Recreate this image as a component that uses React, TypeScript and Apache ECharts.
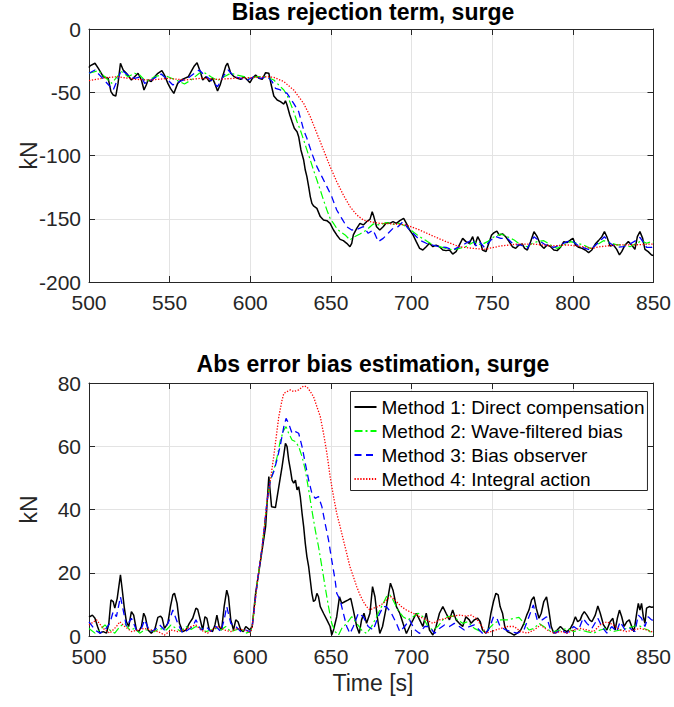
import React, { useEffect, useRef } from "react";
import * as echarts from "echarts";

// ---- Data ----
const xTicks = [500, 550, 600, 650, 700, 750, 800, 850];
const topYTicks = [-200, -150, -100, -50, 0];
const botYTicks = [0, 20, 40, 60, 80];
const seriesNames = [
  "Method 1: Direct compensation",
  "Method 2: Wave-filtered bias",
  "Method 3: Bias observer",
  "Method 4: Integral action",
];
const topTitle = "Bias rejection term, surge";
const botTitle = "Abs error bias estimation, surge";
const yLabel = "kN";
const xLabel = "Time [s]";

// Top panel: bias rejection term [t, kN]
const topM1: number[][] = [[500,-30.5],[500.6,-29.2],[503.7,-27.1],[505.8,-31.1],[508.8,-37.7],[511.9,-39.0],[513.6,-49.5],[515.0,-52.2],[516.6,-53.0],[518.0,-43.0],[519.5,-27.1],[521.2,-32.4],[523.2,-35.0],[526.3,-40.3],[528.3,-37.7],[530.4,-35.0],[532.5,-40.3],[534.1,-48.2],[535.5,-44.3],[536.6,-40.3],[538.6,-41.6],[540.7,-37.7],[542.7,-35.0],[545.2,-32.9],[546.8,-36.4],[548.9,-43.0],[550.5,-46.9],[552.6,-50.9],[555.0,-43.0],[557.1,-40.3],[559.2,-39.0],[561.6,-37.7],[563.3,-33.7],[565.3,-29.2],[567.0,-26.6],[569.0,-33.7],[570.5,-40.3],[572.5,-37.7],[574.6,-41.6],[576.6,-39.0],[578.0,-43.0],[579.7,-49.0],[581.3,-44.3],[582.8,-37.7],[584.8,-29.2],[585.9,-27.1],[587.9,-35.0],[590.0,-37.7],[592.0,-39.0],[594.1,-39.8],[596.1,-37.7],[598.2,-40.3],[599.8,-42.4],[601.3,-39.0],[603.3,-36.4],[605.4,-39.0],[607.4,-39.8],[609.5,-34.5],[611.5,-35.0],[613.0,-44.3],[614.6,-53.0],[616.7,-56.1],[618.7,-57.4],[620.8,-59.3],[621.8,-56.7],[622.8,-60.1],[624.5,-68.0],[625.9,-73.3],[627.3,-78.5],[629.0,-81.2],[630.0,-85.1],[631.4,-95.6],[633.1,-103.6],[634.1,-111.5],[635.1,-116.7],[636.2,-124.6],[637.2,-132.5],[638.2,-137.8],[639.2,-139.9],[641.3,-141.8],[643.4,-148.3],[645.4,-151.0],[647.5,-151.5],[649.5,-153.6],[651.6,-158.9],[653.6,-162.8],[655.7,-166.3],[657.7,-167.3],[659.8,-169.4],[661.8,-172.1],[662.9,-169.4],[663.9,-162.8],[666.0,-157.6],[668.0,-153.6],[670.1,-154.9],[672.1,-152.3],[674.2,-150.5],[675.6,-144.4],[676.6,-148.3],[678.3,-156.3],[680.3,-158.9],[682.4,-156.3],[684.4,-153.1],[686.5,-153.6],[688.5,-152.3],[690.6,-153.6],[692.7,-151.5],[695.1,-149.7],[696.8,-153.6],[698.8,-158.9],[700.9,-162.8],[702.9,-168.1],[705.0,-173.4],[707.0,-174.7],[709.1,-172.1],[711.1,-169.4],[713.2,-172.1],[715.2,-170.8],[717.3,-172.1],[719.4,-174.7],[721.4,-175.2],[723.5,-174.7],[725.5,-177.9],[727.6,-176.0],[729.6,-170.8],[731.7,-165.5],[733.7,-168.1],[735.8,-169.4],[737.9,-164.2],[739.3,-170.7],[741.0,-164.2],[742.6,-168.1],[744.0,-174.7],[746.1,-176.0],[748.2,-168.1],[749.6,-162.8],[751.2,-161.0],[752.9,-159.7],[754.3,-162.8],[756.4,-162.0],[758.4,-164.2],[760.5,-168.1],[762.5,-172.1],[764.6,-173.4],[766.6,-170.7],[768.7,-170.0],[770.1,-173.4],[771.8,-174.7],[773.8,-168.1],[775.9,-160.2],[777.9,-164.2],[780.0,-170.7],[782.0,-173.4],[784.1,-170.7],[786.2,-172.1],[788.2,-174.7],[790.3,-175.2],[792.3,-172.6],[794.4,-168.1],[796.4,-168.9],[798.5,-166.8],[800.1,-165.5],[801.6,-170.7],[803.6,-172.6],[805.7,-173.4],[807.7,-174.7],[809.8,-176.8],[811.8,-174.7],[813.9,-170.0],[815.9,-167.3],[818.0,-164.2],[819.6,-160.2],[821.1,-164.2],[823.1,-171.5],[825.2,-170.7],[827.2,-174.2],[828.9,-178.6],[830.3,-176.0],[832.4,-170.7],[834.4,-168.1],[836.5,-170.7],[838.5,-174.2],[840.0,-164.2],[841.6,-160.2],[843.3,-165.5],[844.7,-174.2],[846.7,-176.0],[848.8,-178.6],[850.0,-179.0]];
const topM2: number[][] = [[500,-35.0],[505.8,-32.9],[514.0,-43.0],[520.1,-33.7],[524.2,-37.7],[528.3,-35.0],[531.4,-36.4],[535.5,-41.6],[540.7,-37.7],[544.8,-36.4],[548.9,-37.7],[554.0,-40.3],[559.2,-43.5],[563.3,-40.3],[568.4,-35.0],[571.5,-34.5],[575.6,-37.7],[579.7,-40.8],[583.8,-37.7],[587.9,-35.0],[592.0,-36.4],[596.1,-37.7],[600.2,-39.0],[604.3,-37.7],[609.5,-37.7],[614.6,-40.3],[616.7,-43.0],[618.7,-45.6],[620.8,-48.2],[622.8,-52.2],[624.9,-58.8],[626.9,-65.3],[629.0,-73.3],[631.0,-79.8],[633.1,-87.7],[635.1,-95.6],[637.2,-103.6],[639.2,-111.5],[641.3,-119.4],[643.4,-127.3],[645.4,-135.2],[647.5,-143.1],[649.5,-149.7],[651.6,-153.6],[653.6,-157.6],[655.7,-160.2],[658.8,-162.8],[661.8,-166.8],[663.9,-164.7],[668.0,-162.1],[672.1,-158.9],[676.2,-154.1],[680.3,-154.9],[684.4,-153.1],[688.5,-154.4],[692.7,-153.6],[696.8,-156.3],[700.9,-160.2],[705.0,-164.2],[709.1,-167.3],[713.2,-170.8],[717.3,-172.1],[721.4,-173.4],[725.5,-174.7],[729.6,-173.4],[733.7,-172.1],[738.9,-168.1],[743.0,-170.7],[747.1,-168.1],[751.2,-164.2],[755.3,-162.0],[759.4,-164.2],[763.6,-166.8],[767.7,-170.7],[771.8,-172.1],[774.9,-169.4],[777.9,-168.1],[782.0,-167.3],[786.2,-170.7],[790.3,-173.4],[794.4,-170.7],[798.5,-168.1],[802.6,-169.4],[806.7,-170.7],[810.8,-173.4],[814.9,-170.7],[819.0,-167.3],[823.1,-168.9],[827.2,-170.7],[831.3,-170.7],[835.4,-172.1],[839.6,-169.4],[842.6,-167.3],[845.7,-169.4],[848.8,-168.1],[850,-168.5]];
const topM3: number[][] = [[500,-35.0],[503.7,-32.4],[515.0,-48.2],[520.1,-32.4],[524.2,-36.4],[528.3,-39.0],[532.5,-37.7],[534.5,-43.0],[538.6,-40.3],[544.8,-35.6],[548.9,-40.3],[552.0,-44.3],[556.1,-41.6],[561.2,-39.0],[565.3,-35.0],[568.4,-32.4],[571.5,-36.4],[575.6,-40.3],[579.7,-45.6],[583.8,-36.4],[586.3,-32.4],[590.0,-37.7],[594.1,-39.0],[598.2,-40.3],[602.3,-37.7],[606.4,-39.0],[610.5,-37.7],[613.6,-41.6],[615.6,-46.9],[618.7,-48.2],[622.8,-50.9],[626.9,-58.8],[630.0,-65.3],[633.1,-79.8],[635.1,-86.4],[638.2,-98.3],[641.3,-108.8],[644.4,-116.7],[647.5,-124.6],[650.5,-132.5],[653.6,-143.1],[656.7,-149.7],[659.8,-156.3],[662.9,-158.9],[666.0,-158.4],[670.1,-156.3],[673.1,-161.5],[676.2,-158.9],[679.3,-168.1],[682.4,-165.5],[685.5,-161.5],[688.5,-157.6],[691.6,-156.3],[694.7,-152.3],[697.8,-157.6],[700.9,-161.5],[705.0,-166.8],[709.1,-169.4],[713.2,-170.8],[717.3,-172.1],[721.4,-172.6],[725.5,-174.7],[729.6,-172.1],[733.7,-169.4],[737.9,-166.3],[739.9,-171.5],[742.0,-168.1],[745.1,-172.6],[749.2,-166.8],[752.3,-164.2],[755.3,-165.5],[759.4,-165.5],[763.6,-170.7],[767.7,-170.7],[771.8,-173.4],[775.9,-164.2],[779.0,-167.3],[783.1,-170.7],[788.2,-172.6],[792.3,-170.7],[796.4,-168.1],[799.5,-167.3],[803.6,-171.5],[807.7,-173.4],[810.8,-174.7],[814.9,-170.0],[819.6,-164.2],[823.1,-169.4],[827.2,-172.6],[831.3,-172.1],[835.4,-170.0],[839.6,-166.8],[841.6,-164.7],[845.7,-172.6],[848.8,-172.6],[850,-172.0]];
const topM4: number[][] = [[500,-40.8],[509.9,-38.5],[518.1,-37.7],[528.3,-39.8],[538.6,-40.3],[548.9,-39.0],[559.2,-40.3],[569.4,-39.0],[579.7,-39.8],[590.0,-39.0],[600.2,-38.5],[610.5,-37.7],[614.6,-38.2],[620.8,-41.6],[626.9,-48.2],[633.1,-58.8],[637.2,-69.3],[641.3,-82.5],[645.4,-95.6],[649.5,-108.8],[653.6,-120.7],[657.7,-131.2],[661.8,-140.4],[666.0,-147.0],[670.1,-151.0],[674.2,-152.3],[680.3,-153.6],[688.5,-154.1],[696.8,-154.9],[705.0,-158.9],[713.2,-163.6],[721.4,-168.1],[729.6,-172.1],[737.8,-173.4],[745.1,-174.2],[755.3,-171.5],[765.6,-170.0],[775.9,-170.0],[786.2,-171.5],[796.4,-170.7],[806.7,-172.1],[811.8,-173.4],[817.0,-172.1],[827.2,-170.7],[837.5,-170.7],[848.8,-170.0],[850,-170.0]];

// Bottom panel: absolute error of bias estimate [t, kN]
const absM1: number[][] = [[500,6.3],[500.6,6.1],[502.1,6.6],[503.7,5.6],[505.3,3.0],[506.8,0.9],[508.8,1.4],[510.9,0.9],[512.3,4.0],[513.6,11.4],[515.0,10.9],[516.0,8.8],[517.5,11.9],[518.5,15.6],[519.5,19.3],[520.5,15.1],[521.8,9.3],[523.2,4.5],[524.6,3.0],[526.3,7.7],[527.7,6.6],[529.4,1.9],[530.8,1.4],[532.5,3.0],[533.9,7.2],[534.9,6.1],[536.6,1.9],[538.6,0.9],[540.7,1.9],[542.7,5.9],[544.4,6.3],[545.4,5.6],[546.8,2.4],[548.9,4.0],[550.5,9.3],[552.0,13.0],[553.0,13.5],[554.6,10.3],[556.1,4.0],[558.1,1.4],[560.2,1.9],[562.2,4.0],[564.3,5.6],[566.3,8.8],[567.4,8.4],[569.0,5.1],[570.5,1.9],[571.9,6.1],[573.1,5.6],[574.6,1.9],[576.6,1.4],[578.1,3.5],[579.3,6.6],[580.7,3.0],[582.2,1.9],[583.8,9.3],[585.4,14.5],[586.5,12.4],[587.9,5.1],[589.6,1.9],[591.0,5.1],[592.4,4.5],[594.1,1.9],[595.7,1.4],[597.2,3.0],[598.6,2.4],[599.8,1.9],[601.2,3.0],[603.3,13.5],[606.4,24.0],[609.5,34.6],[611.5,50.4],[613.2,40.9],[615.6,40.6],[617.7,47.2],[619.7,53.5],[621.8,60.9],[622.8,59.9],[623.8,55.7],[624.9,52.5],[625.9,49.3],[626.9,48.3],[628.0,49.3],[629.0,46.2],[630.0,47.2],[631.0,44.1],[632.1,38.8],[633.1,34.6],[634.1,29.3],[635.1,25.1],[636.2,21.9],[637.2,17.7],[638.2,13.5],[639.2,10.9],[640.3,11.4],[641.3,13.5],[642.3,12.4],[643.4,9.3],[645.4,7.2],[647.5,5.1],[649.5,3.0],[650.5,0.3],[651.6,1.9],[653.6,6.1],[655.3,12.4],[656.7,10.3],[658.8,10.9],[660.8,11.4],[662.3,11.9],[663.9,8.2],[666.0,3.0],[667.6,0.8],[669.0,5.1],[670.5,7.2],[672.1,4.0],[674.2,7.2],[675.8,15.6],[677.3,12.4],[678.7,6.1],[680.3,0.8],[682.0,3.0],[684.4,9.3],[686.9,16.7],[688.5,14.5],[690.6,9.3],[692.7,7.2],[694.7,4.0],[696.8,0.8],[698.8,3.0],[700.9,5.1],[702.9,7.2],[705.0,5.1],[707.0,3.0],[709.1,7.2],[711.1,1.9],[713.2,0.3],[715.2,3.0],[717.3,7.2],[719.4,9.3],[721.4,7.2],[723.5,5.1],[725.5,8.2],[727.6,5.1],[729.6,4.0],[731.7,3.0],[733.7,6.1],[735.8,5.1],[736.9,4.0],[738.9,5.1],[741.0,5.6],[742.6,4.5],[744.0,1.9],[746.1,0.9],[747.5,1.9],[749.2,7.2],[750.8,10.9],[752.3,13.5],[753.7,13.0],[754.9,9.3],[756.4,7.2],[757.8,3.0],[759.4,1.4],[761.5,0.9],[763.6,0.3],[765.6,0.9],[767.7,1.9],[769.7,4.0],[771.4,6.6],[772.8,8.2],[774.4,11.4],[775.9,12.4],[777.3,8.8],[779.0,5.6],[780.4,7.2],[782.0,10.9],[783.7,12.4],[785.1,8.2],[786.6,3.0],[788.2,0.9],[790.3,1.9],[792.3,3.0],[794.4,1.9],[796.4,1.4],[798.5,2.4],[800.1,4.0],[801.6,6.1],[803.0,4.5],[804.6,5.1],[805.7,6.6],[807.1,7.7],[808.7,6.6],[810.4,5.1],[811.8,4.5],[813.9,6.6],[815.5,9.5],[817.0,7.2],[819.0,3.5],[821.1,1.9],[823.1,4.5],[824.8,5.6],[826.2,1.9],[827.6,5.6],[828.9,8.2],[830.3,6.1],[831.8,3.0],[833.4,4.5],[835.0,5.1],[836.5,3.0],[837.9,1.4],[839.6,7.2],[840.6,10.3],[841.6,8.2],[842.6,10.3],[843.7,6.1],[844.7,4.0],[845.7,8.8],[847.4,9.3],[848.8,9.1],[850,9.2]];
const absM2: number[][] = [[500,2.4],[503.7,0.9],[506.8,1.9],[509.9,3.5],[512.9,1.9],[516.0,0.9],[519.1,3.0],[522.2,4.0],[525.3,1.9],[528.3,2.4],[531.4,0.9],[534.5,1.9],[537.6,1.9],[540.7,1.4],[543.8,2.4],[547.9,1.9],[550.9,3.5],[554.0,2.4],[557.1,1.4],[560.2,3.0],[563.3,2.1],[566.3,3.0],[569.4,2.4],[572.5,1.4],[575.6,1.9],[578.7,2.4],[581.8,1.9],[584.8,3.0],[587.9,1.4],[591.0,1.9],[594.1,2.4],[597.2,0.9],[600.2,1.4],[601.2,3.0],[604.3,16.7],[607.4,28.3],[610.5,43.0],[612.5,49.3],[614.6,52.5],[616.7,56.7],[618.7,62.0],[620.8,65.1],[622.2,66.2],[623.8,64.1],[625.9,62.0],[628.0,61.5],[630.0,59.9],[632.1,56.7],[634.1,52.5],[636.2,46.2],[638.2,39.8],[640.3,33.5],[642.3,28.3],[644.4,21.9],[646.4,15.6],[648.5,9.3],[650.5,4.0],[652.6,1.4],[654.7,0.3],[656.7,2.4],[659.8,4.0],[662.9,6.1],[666.0,4.0],[669.0,1.9],[672.1,0.8],[675.2,3.0],[678.3,6.1],[681.4,9.3],[684.4,12.4],[686.5,13.0],[688.5,11.4],[691.6,8.2],[694.7,6.1],[697.8,5.1],[700.9,6.1],[704.0,7.2],[707.0,6.1],[710.1,3.0],[713.2,1.9],[716.3,3.0],[719.4,5.1],[722.4,6.1],[725.5,6.3],[728.6,5.1],[731.7,4.0],[734.8,4.5],[738.9,2.4],[743.0,1.4],[747.1,1.9],[751.2,4.0],[755.3,5.1],[759.4,5.1],[763.6,5.6],[766.6,5.9],[769.7,4.0],[772.8,1.9],[775.9,2.4],[779.0,4.0],[782.0,3.0],[785.1,1.9],[788.2,1.4],[792.3,1.9],[796.4,2.4],[800.5,1.4],[804.6,1.9],[808.7,1.4],[812.9,0.9],[817.0,1.9],[821.1,2.4],[825.2,1.4],[829.3,1.9],[833.4,2.4],[837.5,3.0],[840.6,3.5],[843.7,2.4],[846.7,1.9],[848.8,0.9],[850,0.8]];
const absM3: number[][] = [[500,4.5],[503.7,1.9],[506.8,0.9],[509.9,1.9],[512.9,4.0],[515.0,7.7],[517.0,6.1],[519.5,12.4],[521.2,8.2],[523.2,3.0],[526.3,5.6],[529.4,1.9],[532.5,2.4],[534.5,5.1],[537.6,1.4],[540.7,1.9],[543.8,3.5],[546.8,1.9],[549.9,5.1],[552.0,8.2],[555.0,4.0],[558.1,0.9],[561.2,1.9],[564.3,3.0],[566.3,5.1],[569.4,1.9],[572.5,3.0],[575.6,1.4],[578.7,3.0],[581.8,1.4],[583.8,5.1],[585.4,9.3],[587.9,4.0],[591.0,3.0],[594.1,1.4],[597.2,1.9],[599.8,1.4],[601.2,3.0],[604.3,16.7],[607.4,28.3],[610.5,43.0],[612.5,49.3],[614.6,52.0],[616.7,56.0],[618.7,60.5],[620.8,66.2],[622.2,68.8],[623.8,67.2],[625.9,64.1],[628.0,64.6],[630.0,64.1],[632.1,59.9],[634.1,54.6],[636.2,49.3],[638.2,45.1],[640.3,43.5],[642.3,44.1],[644.4,40.9],[646.4,35.6],[648.5,30.4],[650.5,24.0],[652.6,17.7],[653.6,13.5],[655.7,11.4],[657.7,7.2],[659.8,3.0],[661.8,0.8],[663.9,3.0],[667.0,7.2],[670.1,6.1],[673.1,3.0],[676.2,1.9],[679.3,6.1],[682.4,9.3],[684.4,9.3],[687.5,7.2],[690.6,4.0],[692.7,1.4],[695.7,3.0],[698.8,5.1],[701.9,2.0],[705.0,0.8],[708.1,3.0],[711.1,3.0],[714.2,0.8],[717.3,2.4],[720.4,3.5],[723.5,3.0],[726.5,4.0],[729.6,3.0],[732.7,1.9],[735.8,3.0],[738.9,3.5],[742.0,1.9],[745.1,0.3],[748.2,2.4],[750.8,6.1],[752.9,5.6],[754.9,3.0],[758.4,1.9],[761.5,1.4],[765.6,0.9],[769.7,1.9],[772.8,6.1],[775.5,9.8],[777.9,5.1],[781.0,5.1],[783.7,6.1],[786.2,1.9],[789.2,0.9],[792.3,1.9],[796.4,0.9],[800.5,3.0],[803.6,1.9],[806.3,5.6],[808.7,4.0],[811.8,2.4],[815.5,5.6],[818.0,3.0],[821.1,0.9],[824.1,3.0],[827.2,1.4],[829.3,4.5],[832.4,1.9],[835.4,2.4],[838.5,1.4],[840.6,6.6],[842.6,5.6],[844.7,3.0],[846.7,6.1],[848.8,5.1],[850,5.0]];
const absM4: number[][] = [[500,3.5],[504.7,5.1],[508.8,2.4],[512.9,0.9],[517.0,3.0],[519.1,4.5],[522.2,3.0],[526.3,1.4],[530.4,1.9],[534.5,2.4],[538.6,1.9],[542.7,1.4],[546.8,0.3],[550.9,1.9],[555.0,1.4],[559.2,1.9],[563.3,3.0],[566.3,3.5],[569.4,1.9],[573.5,0.9],[577.6,2.4],[580.7,3.0],[583.8,1.9],[587.9,1.4],[592.0,2.4],[596.1,1.9],[600.2,1.1],[601.2,3.0],[604.3,16.7],[607.4,28.3],[610.5,43.0],[612.5,49.3],[614.6,57.0],[617.7,69.4],[619.7,74.6],[620.8,76.7],[622.8,77.3],[624.9,77.8],[626.9,77.3],[630.0,77.8],[633.1,79.1],[635.1,78.8],[637.2,77.3],[639.2,75.7],[641.3,72.5],[643.4,69.4],[645.4,64.1],[647.5,57.8],[649.5,50.4],[651.6,44.1],[653.6,38.8],[655.7,34.6],[657.7,30.4],[659.8,26.1],[661.8,21.9],[663.9,18.8],[666.0,15.6],[668.0,13.0],[670.1,10.9],[672.1,9.3],[674.2,8.2],[676.2,8.8],[679.3,9.3],[682.4,10.3],[685.5,11.9],[687.5,12.4],[690.6,10.9],[693.7,9.3],[696.8,8.2],[700.9,7.2],[705.0,6.1],[709.1,5.1],[713.2,4.0],[717.3,5.1],[721.4,5.6],[725.5,6.3],[729.6,6.6],[733.7,6.3],[736.9,6.6],[740.0,5.6],[743.0,3.5],[746.1,0.9],[749.2,1.4],[752.3,1.9],[755.3,2.4],[759.4,3.0],[763.6,3.0],[767.7,1.4],[771.8,0.9],[775.9,1.9],[780.0,3.5],[784.1,1.9],[788.2,0.9],[792.3,1.4],[796.4,0.9],[800.5,1.9],[804.6,2.4],[808.7,1.9],[812.9,1.4],[817.0,3.5],[821.1,4.5],[825.2,3.5],[829.3,1.9],[833.4,1.4],[837.5,1.9],[841.6,2.4],[845.7,1.9],[848.8,1.4],[850,1.2]];

// ---- Styling ----
const FONT = "'Liberation Sans', Arial, Helvetica, sans-serif";
const AX = "#262626";
const GRIDC = "#e3e3e3";
const colors = ["#000000", "#00ff00", "#0000ff", "#ff0000"];
const dashes: any[] = ["solid", [8, 3, 2, 3], [7, 4.5], [1.3, 1.6]];
const widths = [1.5, 1.2, 1.3, 1.3];

const G = [
  { left: 89, top: 29, width: 568, height: 253 },
  { left: 89, top: 383, width: 568, height: 253 },
];

function xAx(gridIndex: number, position: string, main: boolean) {
  return {
    type: "value",
    gridIndex,
    position,
    min: xTicks[0],
    max: xTicks[xTicks.length - 1],
    interval: 50,
    axisLine: { show: true, onZero: false, lineStyle: { color: AX, width: 1 } },
    axisTick: { show: true, inside: true, length: 6, lineStyle: { color: AX, width: 1 } },
    axisLabel: { show: main, color: AX, fontSize: 21, lineHeight: 21, fontFamily: FONT, margin: 10 },
    splitLine: { show: main, lineStyle: { color: GRIDC, width: 1 } },
  };
}
function yAx(gridIndex: number, position: string, main: boolean, ticks: number[], interval: number) {
  return {
    type: "value",
    gridIndex,
    position,
    min: ticks[0],
    max: ticks[ticks.length - 1],
    interval,
    axisLine: { show: true, onZero: false, lineStyle: { color: AX, width: 1 } },
    axisTick: { show: true, inside: true, length: 6, lineStyle: { color: AX, width: 1 } },
    axisLabel: { show: main, color: AX, fontSize: 21, lineHeight: 19, fontFamily: FONT, margin: 8 },
    splitLine: { show: main, lineStyle: { color: GRIDC, width: 1 } },
  };
}

function mkSeries(data: number[][], i: number, axisIndex: number) {
  return {
    type: "line",
    name: seriesNames[i],
    data,
    xAxisIndex: axisIndex,
    yAxisIndex: axisIndex,
    symbol: "none",
    showSymbol: false,
    smooth: false,
    clip: true,
    lineStyle: { color: colors[i], width: widths[i], type: dashes[i] },
    itemStyle: { color: colors[i] },
    emphasis: { disabled: true },
  };
}

export default function App() {
  const ref = useRef<HTMLDivElement>(null);
  useEffect(() => {
    if (!ref.current) return;
    const chart = echarts.init(ref.current, null, { renderer: "svg" });
    const option: any = {
      animation: false,
      backgroundColor: "#ffffff",
      grid: G.map((g) => ({ ...g, containLabel: false })),
      xAxis: [xAx(0, "bottom", true), xAx(0, "top", false), xAx(1, "bottom", true), xAx(1, "top", false)],
      yAxis: [
        yAx(0, "left", true, topYTicks, 50),
        yAx(0, "right", false, topYTicks, 50),
        yAx(1, "left", true, botYTicks, 20),
        yAx(1, "right", false, botYTicks, 20),
      ],
      legend: {
        show: true,
        data: seriesNames,
        orient: "vertical",
        left: 350.5,
        top: 391.5,
        itemWidth: 22,
        itemHeight: 20,
        itemGap: 5,
        padding: [6, 3, 2, 3],
        borderColor: AX,
        borderWidth: 1,
        borderRadius: 0,
        backgroundColor: "#ffffff",
        selectedMode: false,
        itemStyle: { opacity: 0, borderWidth: 0 },
        textStyle: { fontSize: 19, color: "#000000", fontFamily: FONT },
      },
      graphic: [
        { type: "text", x: 373, y: 12, style: { text: topTitle, fill: "#000", font: `bold 23px ${FONT}`, align: "center", verticalAlign: "middle" } },
        { type: "text", x: 373, y: 364, style: { text: botTitle, fill: "#000", font: `bold 23px ${FONT}`, align: "center", verticalAlign: "middle" } },
        { type: "text", x: 29, y: 155.5, rotation: Math.PI / 2, style: { text: yLabel, fill: AX, font: `23px ${FONT}`, align: "center", verticalAlign: "middle" } },
        { type: "text", x: 29, y: 509.5, rotation: Math.PI / 2, style: { text: yLabel, fill: AX, font: `23px ${FONT}`, align: "center", verticalAlign: "middle" } },
        { type: "text", x: 373, y: 683, style: { text: xLabel, fill: AX, font: `23px ${FONT}`, align: "center", verticalAlign: "middle" } },
      ],
      series: [
        mkSeries(topM1, 0, 0),
        mkSeries(topM2, 1, 0),
        mkSeries(topM3, 2, 0),
        mkSeries(topM4, 3, 0),
        mkSeries(absM1, 0, 2),
        mkSeries(absM2, 1, 2),
        mkSeries(absM3, 2, 2),
        mkSeries(absM4, 3, 2),
      ],
    };
    chart.setOption(option);
    return () => chart.dispose();
  }, []);
  return <div ref={ref} style={{ position: "absolute", left: 0, top: 0, width: 674, height: 707 }} />;
}
